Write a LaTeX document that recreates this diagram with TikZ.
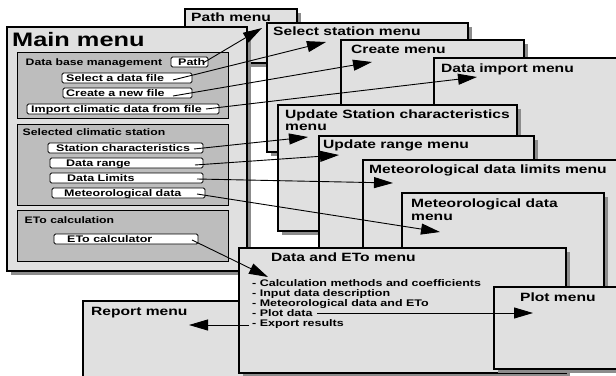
\documentclass[tikz,border=0pt]{standalone}
\usepackage{fontspec}
\setmainfont{Liberation Sans}[FakeStretch=1.3]
\usetikzlibrary{arrows.meta,shadows}
\definecolor{boxgray}{HTML}{E0E0E0}
\definecolor{grpgray}{HTML}{BDBDBD}
\definecolor{shadowgray}{HTML}{8C8C8C}
\tikzset{
 menubox/.style={draw=black, line width=1.2pt, fill=boxgray, anchor=north west, inner sep=0pt, outer sep=0pt,
   drop shadow={shadow xshift=4pt, shadow yshift=-4pt, fill=shadowgray, opacity=1}},
 grpbox/.style={draw=black, line width=1pt, fill=grpgray, anchor=north west, inner sep=0pt, outer sep=0pt},
 btn/.style={draw=black, line width=0.8pt, fill=white, rounded corners=1.5pt, anchor=north west, inner sep=0pt, outer sep=0pt},
 bigtitle/.style={anchor=base west, inner sep=0pt, font=\fontsize{19.5}{21}\selectfont\bfseries},
 mtitle/.style={anchor=base west, inner sep=0pt, font=\fontsize{12}{13}\selectfont\bfseries},
 small/.style={anchor=base west, inner sep=0pt, font=\fontsize{9.4}{10}\selectfont\bfseries},
 btext/.style={anchor=base west, inner sep=0pt, font=\fontsize{9.6}{10}\selectfont\bfseries},
 item/.style={anchor=base west, inner sep=0pt, font=\fontsize{9.6}{10}\selectfont\bfseries},
 link/.style={line width=0.9pt, -{Triangle[length=19pt,width=11pt]}},
}
\begin{document}
\begin{tikzpicture}[x=1pt,y=-1pt]
\useasboundingbox (0,0) rectangle (616,375);
\clip (0,0) rectangle (616,375);
\fill[white] (0,0) rectangle (616,375);

% menus (back to front)
\node[menubox, minimum width=112pt, minimum height=54pt] (pathm) at (185,9) {};
\node[mtitle] (pathmt) at (191,21.7) {Path menu};

\node[menubox, minimum width=240pt, minimum height=244pt] (main) at (7,27) {};
\node[bigtitle] (maint) at (12,46.5) {Main menu};

\node[grpbox, minimum width=211pt, minimum height=66pt] (g1) at (17,52) {};
\node[grpbox, minimum width=211pt, minimum height=81pt] (g2) at (17,124) {};
\node[grpbox, minimum width=211pt, minimum height=51pt] (g3) at (17,210) {};
\node[small] (g1t) at (25.5,65) {Data base management};
\node[small] (g2t) at (22.5,135) {Selected climatic station};
\node[small] (g3t) at (24.5,223.3) {ETo calculation};

\node[btn, minimum width=37pt, minimum height=10pt] (bpath) at (171,57) {};
\node[btn, minimum width=130pt, minimum height=10pt] (bsel) at (62,73) {};
\node[btn, minimum width=129pt, minimum height=10pt] (bcre) at (63,88) {};
\node[btn, minimum width=192pt, minimum height=10pt] (bimp) at (27,104) {};
\node[btn, minimum width=155pt, minimum height=10pt] (bsta) at (48,143) {};
\node[btn, minimum width=153pt, minimum height=10pt] (bran) at (50,158) {};
\node[btn, minimum width=153pt, minimum height=10pt] (blim) at (50,173) {};
\node[btn, minimum width=153pt, minimum height=10pt] (bmet) at (52,188) {};
\node[btn, minimum width=144pt, minimum height=10pt] (beto) at (54,234) {};
\node[btext] (tpath) at (178,65.7) {Path};
\node[btext] (tsel) at (66,81) {Select a data file};
\node[btext] (tcre) at (66,96.7) {Create a new file};
\node[btext] (timp) at (31,112.7) {Import climatic data from file};
\node[btext] (tsta) at (56,151) {Station characteristics};
\node[btext] (tran) at (66,166) {Data range};
\node[btext] (tlim) at (67,181.7) {Data Limits};
\node[btext] (tmet) at (64,196.5) {Meteorological data};
\node[btext] (teto) at (67,242.7) {ETo calculator};

\node[menubox, minimum width=201pt, minimum height=129pt] (selm) at (267,23) {};
\node[mtitle] (selmt) at (273,35) {Select station menu};

\node[menubox, minimum width=183pt, minimum height=160pt] (crem) at (341,40) {};
\node[mtitle] (cremt) at (351,53.3) {Create menu};

\node[menubox, minimum width=200pt, minimum height=200pt] (impm) at (434,58) {};
\node[mtitle] (impmt) at (441,72.7) {Data import menu};

\node[menubox, minimum width=239pt, minimum height=126pt] (stam) at (278,105) {};
\node[mtitle] (stamt) at (285,118) {Update Station characteristics};
\node[mtitle] (stamt2) at (285,130.5) {menu};

\node[menubox, minimum width=215pt, minimum height=130pt] (ranm) at (319,136) {};
\node[mtitle] (ranmt) at (323,148.3) {Update range menu};

\node[menubox, minimum width=270pt, minimum height=130pt] (limm) at (363,160) {};
\node[mtitle] (limmt) at (369,173.3) {Meteorological data limits menu};

\node[menubox, minimum width=202pt, minimum height=120pt] (metm) at (402,193) {};
\node[mtitle] (metmt) at (411,207.3) {Meteorological data};
\node[mtitle] (metmt2) at (411,220) {menu};

\node[menubox, minimum width=180pt, minimum height=100pt] (repm) at (83,301) {};
\node[mtitle] (repmt) at (91,315.7) {Report menu};

\node[menubox, minimum width=327pt, minimum height=125pt] (etom) at (239,248) {};
\node[mtitle] (etomt) at (271,261.7) {Data and ETo menu};
\node[item] (l1) at (252,286) {- Calculation methods and coefficients};
\node[item] (l2) at (252,296) {- Input data description};
\node[item] (l3) at (252,306) {- Meteorological data and ETo};
\node[item] (l4) at (252,316) {- Plot data};
\node[item] (l5) at (252,326) {- Export results};

\node[menubox, minimum width=140pt, minimum height=82pt] (plotm) at (494,287) {};
\node[mtitle] (plotmt) at (520,301.7) {Plot menu};

% connector end points
\coordinate (s1) at (203,63);   \coordinate (e1) at (262,28);
\coordinate (s2) at (173,80);   \coordinate (e2) at (326,42);
\coordinate (s3) at (173,96);   \coordinate (e3) at (372,62);
\coordinate (s4) at (206,109);  \coordinate (e4) at (477,77);
\coordinate (s5) at (194,149);  \coordinate (e5) at (308,137);
\coordinate (s6) at (195,165);  \coordinate (e6) at (339,155);
\coordinate (s7) at (197,179);  \coordinate (e7) at (393,183);
\coordinate (s8) at (197,194);  \coordinate (e8) at (440,232);
\coordinate (s9) at (192,240);  \coordinate (e9) at (268,277);
\coordinate (s10) at (317,313); \coordinate (e10) at (533,313);
\coordinate (s11) at (249,325); \coordinate (e11) at (189,325);

\draw[link] (s1) -- (e1);
\draw[link] (s2) -- (e2);
\draw[link] (s3) -- (e3);
\draw[link] (s4) -- (e4);
\draw[link] (s5) -- (e5);
\draw[link] (s6) -- (e6);
\draw[link] (s7) -- (e7);
\draw[link] (s8) -- (e8);
\draw[link] (s9) -- (e9);
\draw[link] (s10) -- (e10);
\draw[link] (s11) -- (e11);
\end{tikzpicture}
\end{document}
